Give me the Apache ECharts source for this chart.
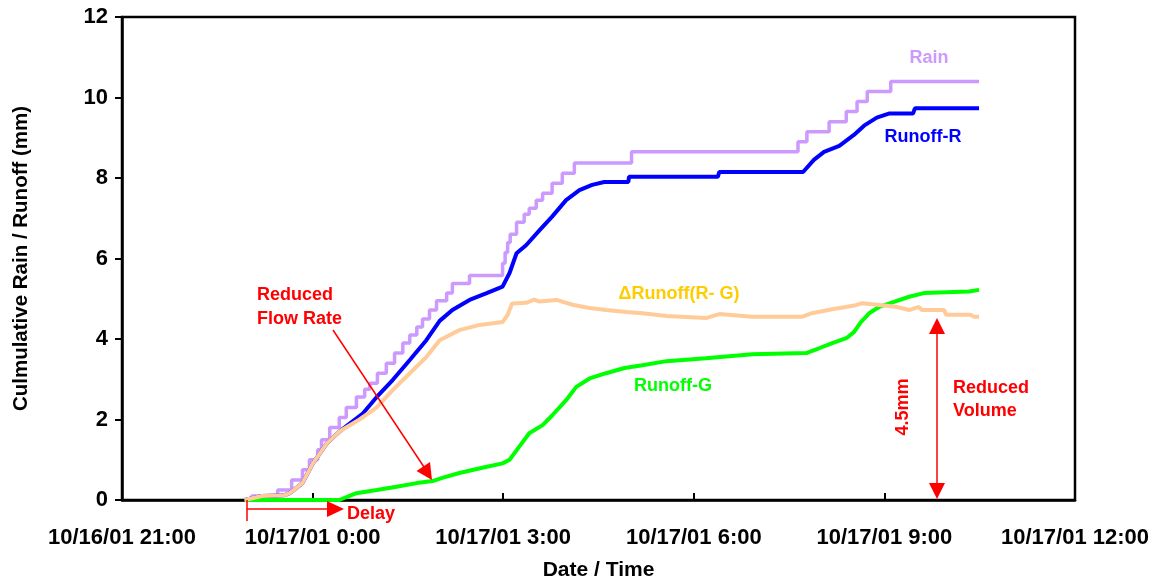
<!DOCTYPE html>
<html>
<head>
<meta charset="utf-8">
<script src="https://cdn.jsdelivr.net/npm/echarts@6/dist/echarts.min.js"></script>
<style>
  html, body { margin: 0; padding: 0; background: #fff; }
  #chart { width: 1156px; height: 581px; }
</style>
</head>
<body>
<div id="chart"></div>
<script>
// time in hours after 10/17/01 0:00 (negative = 10/16/01)
var rainT = [-1.07, -0.96, -0.55, -0.33, -0.16, -0.05, 0.08, 0.14, 0.27, 0.42, 0.53, 0.69, 0.82, 0.90, 1.02, 1.16, 1.29, 1.42, 1.53, 1.64, 1.73, 1.84, 1.95, 2.11, 2.20, 2.47, 2.99, 3.03, 3.07, 3.11, 3.21, 3.33, 3.41, 3.52, 3.62, 3.77, 3.93, 4.12, 5.02, 7.64, 7.78, 8.13, 8.40, 8.57, 8.73, 9.10, 10.49]
var rainMm = [0, 0.1, 0.25, 0.5, 0.75, 1.0, 1.25, 1.5, 1.8, 2.05, 2.3, 2.56, 2.75, 2.9, 3.15, 3.4, 3.65, 3.9, 4.1, 4.3, 4.5, 4.72, 4.95, 5.14, 5.38, 5.58, 5.88, 6.15, 6.4, 6.6, 6.9, 7.1, 7.25, 7.45, 7.62, 7.87, 8.12, 8.37, 8.65, 8.9, 9.15, 9.4, 9.65, 9.9, 10.15, 10.4, 10.4]

var runoffRT = [-1.07, -0.80, -0.44, -0.36, -0.16, 0, 0.22, 0.42, 0.79, 1.01, 1.26, 1.53, 1.79, 2.00, 2.20, 2.47, 2.74, 2.99, 3.10, 3.21, 3.36, 3.57, 3.77, 3.99, 4.20, 4.40, 4.59, 4.97, 4.98, 6.38, 6.40, 7.72, 7.89, 8.05, 8.29, 8.52, 8.68, 8.88, 9.07, 9.45, 9.48, 10.49]
var runoffRMm = [0, 0.1, 0.12, 0.17, 0.42, 0.9, 1.4, 1.7, 2.15, 2.56, 2.98, 3.48, 3.97, 4.45, 4.72, 4.97, 5.14, 5.3, 5.64, 6.13, 6.33, 6.7, 7.04, 7.45, 7.7, 7.83, 7.9, 7.9, 8.03, 8.03, 8.15, 8.15, 8.45, 8.65, 8.8, 9.07, 9.3, 9.5, 9.6, 9.6, 9.73, 9.73]

var runoffGT = [-1.07, 0.42, 0.69, 1.01, 1.32, 1.64, 1.89, 2.04, 2.31, 2.67, 2.99, 3.10, 3.25, 3.41, 3.62, 3.77, 3.99, 4.15, 4.36, 4.62, 4.91, 5.19, 5.57, 6.19, 6.92, 7.77, 7.97, 8.18, 8.40, 8.52, 8.63, 8.76, 8.92, 9.15, 9.39, 9.62, 10.33, 10.49]
var runoffGMm = [0, 0, 0.17, 0.25, 0.33, 0.42, 0.47, 0.55, 0.67, 0.8, 0.91, 1.0, 1.32, 1.66, 1.86, 2.1, 2.48, 2.81, 3.02, 3.15, 3.28, 3.35, 3.45, 3.52, 3.62, 3.65, 3.77, 3.9, 4.02, 4.17, 4.42, 4.64, 4.8, 4.92, 5.05, 5.14, 5.18, 5.22]

var deltaT = [-1.07, -0.80, -0.44, -0.36, -0.16, 0, 0.22, 0.42, 0.74, 1.01, 1.26, 1.53, 1.79, 2.00, 2.31, 2.63, 2.99, 3.07, 3.14, 3.36, 3.49, 3.57, 3.84, 4.09, 4.36, 4.62, 4.94, 5.19, 5.57, 6.19, 6.40, 6.92, 7.70, 7.86, 8.18, 8.55, 8.65, 8.96, 9.18, 9.39, 9.54, 9.59, 9.94, 9.97, 10.36, 10.41, 10.49]
var deltaMm = [0, 0.1, 0.12, 0.17, 0.42, 0.9, 1.4, 1.7, 2.0, 2.3, 2.73, 3.15, 3.55, 3.97, 4.22, 4.35, 4.42, 4.6, 4.88, 4.9, 4.98, 4.93, 4.97, 4.85, 4.77, 4.72, 4.67, 4.64, 4.57, 4.52, 4.62, 4.55, 4.55, 4.64, 4.74, 4.84, 4.89, 4.84, 4.8, 4.72, 4.8, 4.72, 4.72, 4.6, 4.6, 4.55, 4.55]

var yTicks = [0, 2, 4, 6, 8, 10, 12]

function pairs (t, v) {
  return t.map(function (x, i) { return [x, v[i]] })
}

var FONT = 'Liberation Sans, Arial, sans-serif'

function txt (x, y, text, color, opts) {
  var el = {
    type: 'text',
    x: x,
    y: y,
    style: {
      text: text,
      fill: color,
      font: 'bold 18px ' + FONT,
      textAlign: 'center',
      textVerticalAlign: 'middle'
    },
    z: 100
  }
  if (opts) Object.assign(el.style, opts)
  return el
}

function line (x1, y1, x2, y2) {
  return { type: 'line', shape: { x1: x1, y1: y1, x2: x2, y2: y2 }, style: { stroke: '#ff0000', lineWidth: 1.5 }, z: 100 }
}

function tri (pts) {
  return { type: 'polygon', shape: { points: pts }, style: { fill: '#ff0000' }, z: 100 }
}

var myChart = echarts.init(document.getElementById('chart'))

var option = {
  animation: false,
  backgroundColor: '#fff',
  grid: {
    left: 122,
    right: 81,
    top: 17,
    bottom: 81,
    outerBoundsMode: 'none',
    show: true,
    borderColor: '#000',
    borderWidth: 2.5
  },
  xAxis: {
    type: 'value',
    min: -3,
    max: 12,
    interval: 3,
    name: 'Date / Time',
    nameLocation: 'middle',
    nameGap: 60,
    nameTextStyle: { fontFamily: FONT, fontWeight: 'bold', fontSize: 21, color: '#000' },
    splitLine: { show: false },
    axisLine: { onZero: false, lineStyle: { color: '#000', width: 2.5 } },
    axisTick: { inside: true, length: 7, lineStyle: { color: '#000', width: 2 } },
    axisLabel: {
      fontFamily: FONT,
      fontWeight: 'bold',
      fontSize: 22,
      color: '#000',
      margin: 27,
      showMinLabel: true,
      showMaxLabel: true,
      hideOverlap: false,
      formatter: function (v) {
        if (v < 0) return '10/16/01 ' + (24 + v) + ':00'
        return '10/17/01 ' + v + ':00'
      }
    }
  },
  yAxis: {
    type: 'value',
    min: yTicks[0],
    max: yTicks[yTicks.length - 1],
    interval: 2,
    name: 'Culmulative Rain / Runoff (mm)',
    nameLocation: 'middle',
    nameGap: 90,
    nameTextStyle: { fontFamily: FONT, fontWeight: 'bold', fontSize: 20.5, color: '#000' },
    splitLine: { show: false },
    axisLine: { show: true, onZero: false, lineStyle: { color: '#000', width: 2.5 } },
    axisTick: { show: true, length: 7, lineStyle: { color: '#000', width: 2 } },
    axisLabel: {
      fontFamily: FONT,
      fontWeight: 'bold',
      fontSize: 22,
      color: '#000',
      margin: 14
    }
  },
  series: [
    {
      name: 'Rain',
      type: 'line',
      step: 'end',
      symbol: 'none',
      data: pairs(rainT, rainMm),
      lineStyle: { color: '#cc99ff', width: 3.5 }
    },
    {
      name: 'Runoff-R',
      type: 'line',
      symbol: 'none',
      data: pairs(runoffRT, runoffRMm),
      lineStyle: { color: '#0000ff', width: 4 }
    },
    {
      name: 'Runoff-G',
      type: 'line',
      symbol: 'none',
      data: pairs(runoffGT, runoffGMm),
      lineStyle: { color: '#00ff00', width: 4 }
    },
    {
      name: 'dRunoff',
      type: 'line',
      symbol: 'none',
      data: pairs(deltaT, deltaMm),
      lineStyle: { color: '#ffcc99', width: 4 }
    }
  ],
  graphic: [
    txt(929, 58, 'Rain', '#cc99ff'),
    txt(923, 137, 'Runoff-R', '#0000ff'),
    txt(679, 294, '\u0394Runoff(R- G)', '#ffcc00'),
    txt(673, 386, 'Runoff-G', '#00ff00'),
    txt(257, 295, 'Reduced', '#ff0000', { textAlign: 'left' }),
    txt(257, 319, 'Flow Rate', '#ff0000', { textAlign: 'left' }),
    txt(347, 514, 'Delay', '#ff0000', { textAlign: 'left' }),
    txt(953, 388, 'Reduced', '#ff0000', { textAlign: 'left' }),
    txt(953, 411, 'Volume', '#ff0000', { textAlign: 'left' }),
    { type: 'text', x: 903, y: 407, rotation: Math.PI / 2,
      style: { text: '4.5mm', fill: '#ff0000', font: 'bold 18px ' + FONT, textAlign: 'center', textVerticalAlign: 'middle' }, z: 100 },
    // reduced flow rate arrow
    line(333, 330, 424, 467),
    tri([[432, 480], [416.5, 471], [430, 462]]),
    // delay arrow
    line(247, 500, 247, 521),
    line(247, 509, 328, 509),
    tri([[344, 509], [327, 501], [327, 517]]),
    // reduced volume double arrow
    line(937, 332, 937, 484),
    tri([[937, 318], [929, 334], [945, 334]]),
    tri([[937, 499], [929, 483], [945, 483]])
  ]
}

myChart.setOption(option, true)
</script>
</body>
</html>
